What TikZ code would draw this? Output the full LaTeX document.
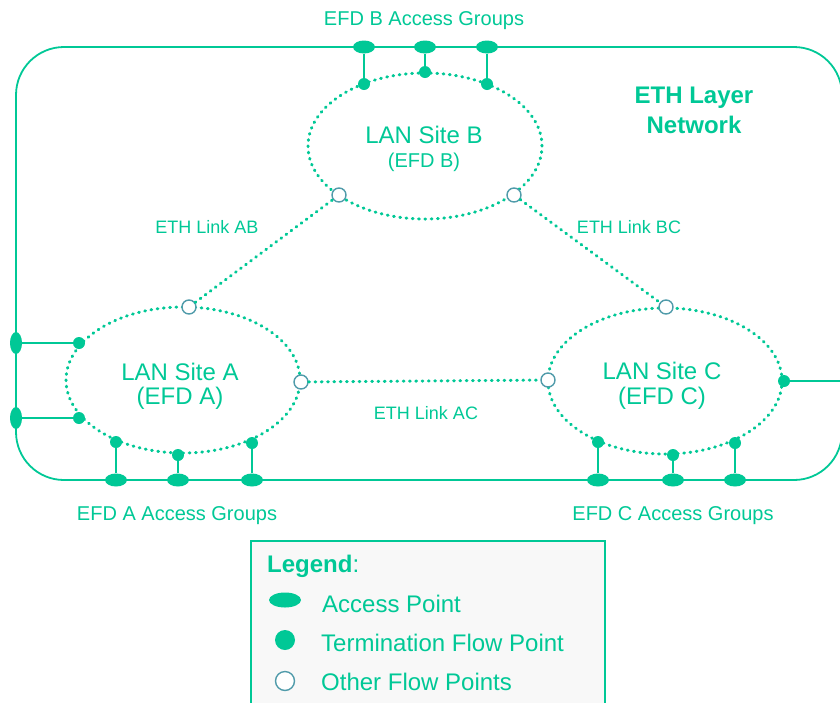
\documentclass[tikz,border=0pt]{standalone}
\usepackage{fontspec}
\setmainfont{Liberation Sans}
\usetikzlibrary{shapes.geometric}
\definecolor{eg}{RGB}{0,200,150}
\definecolor{ofpc}{RGB}{80,155,170}
\definecolor{lgbg}{RGB}{248,248,248}
\begin{document}
\begin{tikzpicture}[x=1pt,y=-1pt,
 site/.style={draw=eg, line width=3pt, dash pattern=on 0.8pt off 5.5pt, line cap=round, ellipse, minimum width=234pt, minimum height=146pt, inner sep=0pt},
 link/.style={draw=eg, line width=3pt, dash pattern=on 0.8pt off 5.5pt, line cap=round},
 conn/.style={draw=eg, line width=1.8pt},
 ap/.style={ellipse, fill=eg, minimum width=22pt, minimum height=13pt, inner sep=0pt},
 apv/.style={ellipse, fill=eg, minimum width=12pt, minimum height=22pt, inner sep=0pt},
 tfp/.style={circle, fill=eg, minimum size=12pt, inner sep=0pt},
 ofp/.style={circle, draw=ofpc, line width=1.4pt, fill=white, minimum size=14pt, inner sep=0pt},
 txt/.style={text=eg, inner sep=0pt, anchor=base},
 big/.style={font=\fontsize{24}{28}\selectfont},
 mid/.style={font=\fontsize{20}{24}\selectfont},
 sml/.style={font=\fontsize{18}{22}\selectfont},
]
\useasboundingbox (0,0) rectangle (840,702);
% network frame
\draw[conn, rounded corners=48pt] (16,47) rectangle (842,480);
% legend box
\draw[eg, line width=1.8pt, fill=lgbg] (251,541) rectangle (605,712);

% LAN sites
\node[site] (siteA) at (183,380) {};
\node[site] (siteB) at (425,146) {};
\node[site] (siteC) at (665,381) {};

% other flow points
\node[ofp] (a1) at (189,307) {};
\node[ofp] (a2) at (301,382) {};
\node[ofp] (b1) at (339,195) {};
\node[ofp] (b2) at (514,195) {};
\node[ofp] (c1) at (666,307) {};
\node[ofp] (c2) at (548,380) {};

% links
\draw[link] (a1) -- (b1);
\draw[link] (b2) -- (c1);
\draw[link] (a2) -- (c2);

% termination flow points
\node[tfp] (tA1) at (79,343) {};
\node[tfp] (tA2) at (79,418) {};
\node[tfp] (tA3) at (116,442) {};
\node[tfp] (tA4) at (178,455) {};
\node[tfp] (tA5) at (252,443) {};
\node[tfp] (tB1) at (364,84) {};
\node[tfp] (tB2) at (425,72) {};
\node[tfp] (tB3) at (487,84) {};
\node[tfp] (tC1) at (784,381) {};
\node[tfp] (tC2) at (598,442) {};
\node[tfp] (tC3) at (673,455) {};
\node[tfp] (tC4) at (735,443) {};

% access points
\node[apv] (aA1) at (16,343) {};
\node[apv] (aA2) at (16,418) {};
\node[ap] (aA3) at (116,480) {};
\node[ap] (aA4) at (178,480) {};
\node[ap] (aA5) at (252,480) {};
\node[ap] (aB1) at (364,47) {};
\node[ap] (aB2) at (425,47) {};
\node[ap] (aB3) at (487,47) {};
\node[ap] (aC2) at (598,480) {};
\node[ap] (aC3) at (673,480) {};
\node[ap] (aC4) at (735,480) {};
\coordinate (cR) at (842,381);

% connectors
\draw[conn] (aA1) -- (tA1);
\draw[conn] (aA2) -- (tA2);
\draw[conn] (aA3) -- (tA3);
\draw[conn] (aA4) -- (tA4);
\draw[conn] (aA5) -- (tA5);
\draw[conn] (aB1) -- (tB1);
\draw[conn] (aB2) -- (tB2);
\draw[conn] (aB3) -- (tB3);
\draw[conn] (tC1) -- (cR);
\draw[conn] (aC2) -- (tC2);
\draw[conn] (aC3) -- (tC3);
\draw[conn] (aC4) -- (tC4);

% site texts
\node[txt, big] (sA1) at (180,380) {LAN Site A};
\node[txt, big] (sA2) at (180,404) {(EFD A)};
\node[txt, big] (sB1) at (424,143) {LAN Site B};
\node[txt, mid] (sB2) at (424,167) {(EFD B)};
\node[txt, big] (sC1) at (662,379) {LAN Site C};
\node[txt, big] (sC2) at (662,404) {(EFD C)};

% labels
\node[txt, mid] (gB) at (424,25) {EFD B Access Groups};
\node[txt, mid] (gA) at (177,520) {EFD A Access Groups};
\node[txt, mid] (gC) at (673,520) {EFD C Access Groups};
\node[txt, sml] (lAB) at (207,233) {ETH Link AB};
\node[txt, sml] (lBC) at (629,233) {ETH Link BC};
\node[txt, sml] (lAC) at (426,419) {ETH Link AC};
\node[txt, font=\fontsize{24}{28}\selectfont\bfseries] (net1) at (694,103) {ETH Layer};
\node[txt, font=\fontsize{24}{28}\selectfont\bfseries] (net2) at (694,133) {Network};

% legend
\node[txt, big, anchor=base west] (lg) at (267,572) {\textbf{Legend}:};
\node[ap, minimum width=32pt, minimum height=15pt] (lgAP) at (285,600) {};
\node[tfp, minimum size=20pt] (lgTFP) at (285,640) {};
\node[ofp, minimum size=19pt] (lgOFP) at (285,681) {};
\node[txt, big, anchor=base west] (lgt1) at (322,612) {Access Point};
\node[txt, big, anchor=base west] (lgt2) at (321,651) {Termination Flow Point};
\node[txt, big, anchor=base west] (lgt3) at (321,690) {Other Flow Points};
\end{tikzpicture}
\end{document}
